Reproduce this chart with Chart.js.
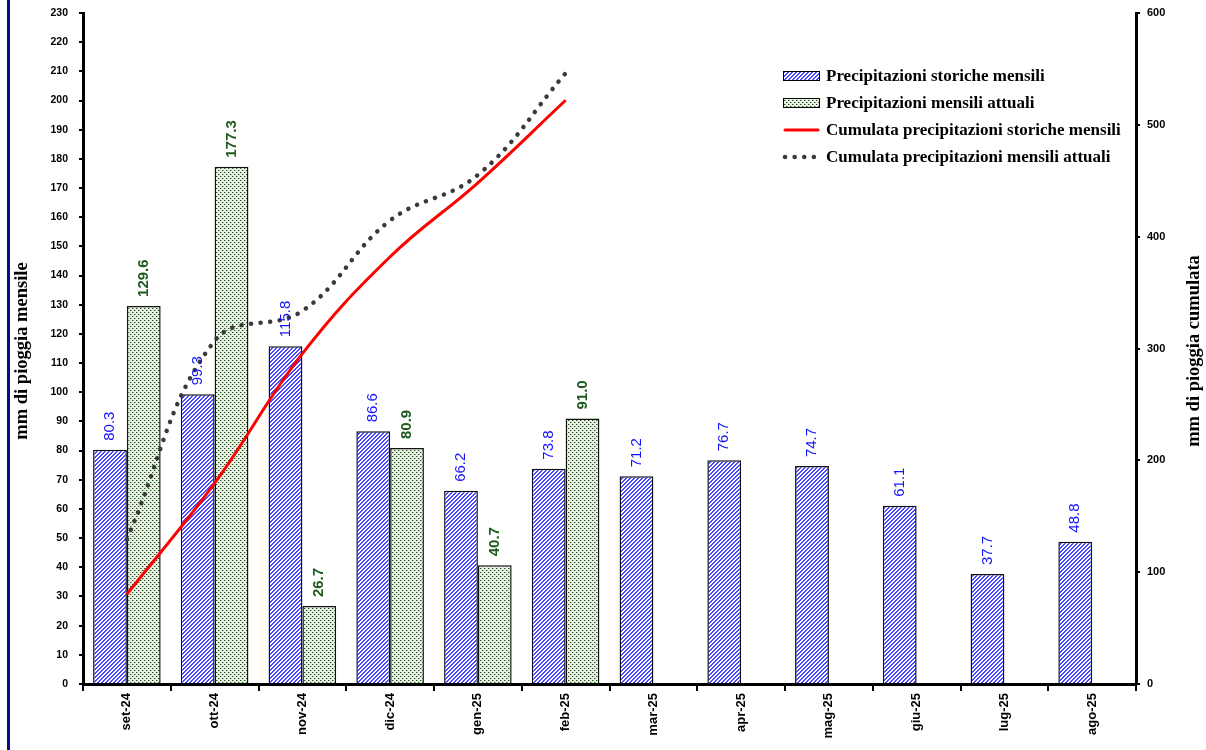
<!DOCTYPE html>
<html>
<head>
<meta charset="utf-8">
<script src="https://cdn.jsdelivr.net/npm/chart.js@4.4.1/dist/chart.umd.min.js"></script>
<style>
  html, body { margin: 0; padding: 0; background: #fff; }
  #wrap { position: relative; width: 1206px; height: 750px; }
  #bordo { position: absolute; left: 7px; top: 0; width: 3px; height: 750px; background: #0b0b8a; }
</style>
</head>
<body>
<div id="wrap">
  <canvas id="grafico" width="1206" height="750"></canvas>
  <div id="bordo"></div>
</div>
<script>
// mesi dell'anno idrologico
const mesi = ['set-24', 'ott-24', 'nov-24', 'dic-24', 'gen-25', 'feb-25', 'mar-25', 'apr-25', 'mag-25', 'giu-25', 'lug-25', 'ago-25'];

// precipitazioni mensili (mm)
const storiche = [80.3, 99.3, 115.8, 86.6, 66.2, 73.8, 71.2, 76.7, 74.7, 61.1, 37.7, 48.8];
const attuali = [129.6, 177.3, 26.7, 80.9, 40.7, 91.0, null, null, null, null, null, null];

// cumulate (mm)
const cumStoriche = [80.3, 179.6, 295.4, 382.0, 448.2, 522.0, null, null, null, null, null, null];
const cumAttuali = [129.6, 306.9, 333.6, 414.5, 455.2, 546.2, null, null, null, null, null, null];

// etichette degli assi
const tickSx = { min: 0, max: 230, step: 10 };
const tickDx = { min: 0, max: 600, step: 100 };

// riempimenti a trama, come nel foglio originale
function tramaRighe() {
    const c = document.createElement('canvas');
    c.width = 4; c.height = 4;
    const g = c.getContext('2d');
    g.fillStyle = '#ffffff';
    g.fillRect(0, 0, 4, 4);
    g.fillStyle = '#4848ff';
    for (let i = 0; i < 4; i++) {
        g.fillRect(i, 3 - i, 1, 1);
        g.fillRect((i + 1) % 4, 3 - i, 1, 1);
    }
    return g.createPattern(c, 'repeat');
}

function tramaPunti() {
    const c = document.createElement('canvas');
    c.width = 4; c.height = 4;
    const g = c.getContext('2d');
    g.fillStyle = '#eaefe4';
    g.fillRect(0, 0, 4, 4);
    g.fillStyle = '#1f4f1f';
    g.fillRect(0, 0, 1, 1);
    g.fillRect(2, 2, 1, 1);
    g.fillStyle = '#9fb59f';
    g.fillRect(1, 0, 1, 1);
    g.fillRect(3, 2, 1, 1);
    return g.createPattern(c, 'repeat');
}

const righe = tramaRighe();
const punti = tramaPunti();

// etichette dei valori sopra le barre, ruotate
const etichetteBarre = {
    id: 'etichetteBarre',
    afterDatasetsDraw(chart) {
        const ctx = chart.ctx;
        const colori = { 0: '#1414ff', 1: '#1d5a1d' };
        [0, 1].forEach(i => {
            const meta = chart.getDatasetMeta(i);
            const dati = chart.data.datasets[i].data;
            meta.data.forEach((bar, j) => {
                if (dati[j] == null) return;
                ctx.save();
                ctx.translate(bar.x, bar.y - 9);
                ctx.rotate(-Math.PI / 2);
                ctx.font = i === 0 ? '15px "Liberation Sans", Arial' : 'bold 15px "Liberation Sans", Arial';
                ctx.fillStyle = colori[i];
                ctx.textAlign = 'left';
                ctx.textBaseline = 'middle';
                ctx.fillText(dati[j].toFixed(1), 0, 0);
                ctx.restore();
            });
        });
    }
};

// titoli degli assi e legenda disegnati a mano
const decorazioni = {
    id: 'decorazioni',
    afterDraw(chart) {
        const ctx = chart.ctx;
        ctx.save();
        ctx.font = 'bold 18.5px "Liberation Serif", "Times New Roman", serif';
        ctx.fillStyle = '#000';
        ctx.textAlign = 'center';
        ctx.textBaseline = 'middle';
        ctx.save();
        ctx.translate(22, 351);
        ctx.rotate(-Math.PI / 2);
        ctx.fillText('mm di pioggia mensile', 0, 0);
        ctx.restore();
        ctx.save();
        ctx.translate(1194, 351);
        ctx.rotate(-Math.PI / 2);
        ctx.fillText('mm di pioggia cumulata', 0, 0);
        ctx.restore();

        // legenda
        const x0 = 783, w = 37;
        const ys = [76, 103, 130, 157];
        const ds = chart.data.datasets;
        ctx.font = 'bold 17px "Liberation Serif", "Times New Roman", serif';
        ctx.textAlign = 'left';
        ds.forEach((d, i) => {
            const y = ys[i];
            if (i < 2) {
                ctx.fillStyle = d.backgroundColor;
                ctx.fillRect(x0, y - 5, w, 10);
                ctx.strokeStyle = '#000';
                ctx.lineWidth = 1;
                ctx.strokeRect(x0 + 0.5, y - 4.5, w - 1, 9);
            } else {
                ctx.beginPath();
                ctx.strokeStyle = d.borderColor;
                ctx.lineWidth = d.borderWidth;
                ctx.lineCap = 'round';
                ctx.setLineDash(d.borderDash || []);
                ctx.moveTo(x0 + 2, y);
                ctx.lineTo(x0 + w - 2, y);
                ctx.stroke();
                ctx.setLineDash([]);
            }
            ctx.fillStyle = '#000';
            ctx.fillText(d.label, x0 + w + 6, y + 1);
        });
        ctx.restore();
    }
};

const ctx = document.getElementById('grafico').getContext('2d');
const grafico = new Chart(ctx, {
    type: 'bar',
    data: {
        labels: mesi,
        datasets: [
            {
                label: 'Precipitazioni storiche mensili',
                data: storiche,
                backgroundColor: righe,
                borderColor: '#111',
                borderWidth: 1.5,
                yAxisID: 'y',
                order: 2,
                categoryPercentage: 0.77,
                barPercentage: 1.0
            },
            {
                label: 'Precipitazioni mensili attuali',
                data: attuali,
                backgroundColor: punti,
                borderColor: '#111',
                borderWidth: 1.5,
                yAxisID: 'y',
                order: 2,
                categoryPercentage: 0.77,
                barPercentage: 1.0
            },
            {
                type: 'line',
                label: 'Cumulata precipitazioni storiche mensili',
                data: cumStoriche,
                borderColor: '#ff0000',
                borderWidth: 3,
                pointRadius: 0,
                tension: 0.4,
                fill: false,
                yAxisID: 'y1',
                order: 1
            },
            {
                type: 'line',
                label: 'Cumulata precipitazioni mensili attuali',
                data: cumAttuali,
                borderColor: '#3a3a3a',
                borderWidth: 4.5,
                borderDash: [0.1, 9.5],
                borderCapStyle: 'round',
                pointRadius: 0,
                tension: 0.4,
                fill: false,
                yAxisID: 'y1',
                order: 0
            }
        ]
    },
    options: {
        responsive: false,
        animation: false,
        layout: { padding: { top: 13, left: 0, right: 0, bottom: 0 } },
        plugins: {
            legend: { display: false },
            tooltip: { enabled: false }
        },
        scales: {
            x: {
                grid: {
                    display: true,
                    drawOnChartArea: false,
                    offset: true,
                    color: '#000',
                    lineWidth: 2,
                    tickLength: 7
                },
                border: { color: '#000', width: 3 },
                ticks: {
                    color: '#000',
                    font: { family: '"Liberation Sans", Arial', size: 13, weight: 'bold' },
                    maxRotation: 90,
                    minRotation: 90,
                    padding: 2
                },
                afterFit: s => { s.height = 66; }
            },
            y: {
                position: 'left',
                min: tickSx.min,
                max: tickSx.max,
                grid: { drawOnChartArea: false, color: '#000', lineWidth: 2, tickLength: 4 },
                border: { color: '#000', width: 3 },
                ticks: {
                    stepSize: tickSx.step,
                    color: '#000',
                    font: { family: '"Liberation Sans Narrow", "Liberation Sans", Arial', size: 10.5, weight: 'bold' },
                    padding: 11
                },
                afterFit: s => { s.width = 83; s.paddingTop = 0; }
            },
            y1: {
                position: 'right',
                min: tickDx.min,
                max: tickDx.max,
                grid: { drawOnChartArea: false, color: '#000', lineWidth: 2, tickLength: 4 },
                border: { color: '#000', width: 3 },
                ticks: {
                    stepSize: tickDx.step,
                    color: '#000',
                    font: { family: '"Liberation Sans", Arial', size: 11, weight: 'bold' },
                    padding: 7
                },
                afterFit: s => { s.width = 70; s.paddingTop = 0; }
            }
        }
    },
    plugins: [etichetteBarre, decorazioni]
});
</script>
</body>
</html>
